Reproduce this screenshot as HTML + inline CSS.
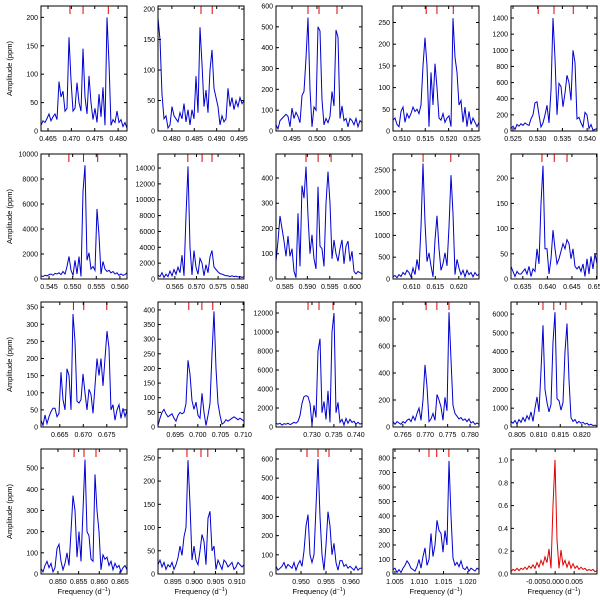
<!DOCTYPE html>
<html><head><meta charset="utf-8"><style>
html,body{margin:0;padding:0;background:#fff;}
svg{display:block;font-family:"Liberation Sans",sans-serif;}
</style></head><body>
<svg id="chart" width="600" height="600" viewBox="0 0 600 600" xmlns="http://www.w3.org/2000/svg"></svg>
<script>
const xMins=[.4635,.4769,.4918,.5081,.5246,.5433,.5611,.5830,.6060,.6326,.6610,.6912,.7218,.7628,.8036,.8459,.8915,.945,1.0046,-.0116];
const xMaxs=[.4819,.4961,.5090,.5265,.5420,.5615,.5810,.6022,.6243,.6501,.6793,.7102,.7414,.7820,.8235,.8667,.9117,.9622,1.0223,.0110];
const yMaxs=[220,205,600,288,1549,10000,15770,495,2867,248,365,427,13160,926,6640,590,269,652,862,1.096];
const yStep=[50,50,100,50,200,2000,2000,100,500,50,50,50,2000,200,1000,100,50,100,100,0.2];
const xTickLists=[[.465,.470,.475,.480],[.480,.485,.490,.495],[.495,.500,.505],[.510,.515,.520,.525],[.525,.530,.535,.540],
[.545,.550,.555,.560],[.565,.570,.575,.580],[.585,.590,.595,.600],[.610,.615,.620],[.635,.640,.645,.650],
[.665,.670,.675],[.695,.700,.705,.710],[.730,.735,.740],[.765,.770,.775,.780],[.805,.810,.815,.820],
[.850,.855,.860,.865],[.895,.900,.905,.910],[.950,.955,.960],[1.005,1.010,1.015,1.020],[-.005,0,.005]];
const markers=[[.4697,.4725,.4779],[.4865,.4890],[.4982,.5004,.5040],[.5152,.5175,.5210],[.5301,.5333,.5372],
[.5492,.5523,.5553],[.5680,.5713,.5736],[.5897,.5924,.5953],[.6124,.6183],[.6389,.6414,.6440],
[.6679,.6701,.6750],[.6980,.7009,.7033],[.7291,.7316,.7348],[.7702,.7726,.7753],[.8110,.8135,.8163],
[.8539,.8563,.8592],[.8983,.9016,.9032],[.9512,.9534,.9556],[1.0120,1.0136,1.0161],[]];
const amp1=[10,18,15,22,30,18,25,30,20,87,60,70,35,40,165,90,35,40,85,50,35,145,60,30,97,50,20,40,15,65,25,77,10,200,120,10,20,15,35,15,20,8,15,5];
const amp2=[185,150,60,20,25,5,10,40,25,20,15,30,20,45,15,35,10,35,20,90,30,170,110,40,67,30,100,133,70,55,40,10,25,15,20,70,40,55,35,50,40,55,45,50];
const amp3=[30,10,50,60,70,80,70,20,110,60,90,70,40,170,190,350,545,200,20,115,100,500,480,150,30,60,40,70,190,120,485,450,60,120,50,60,20,60,50,30,60,20,50,40];
const amp4=[25,30,15,10,45,55,20,40,30,40,55,45,50,40,60,150,215,150,10,135,60,155,100,30,25,40,20,30,35,10,260,170,135,60,70,20,55,10,45,15,30,20,10,20];
const amp5=[30,60,20,80,60,90,70,100,80,70,150,200,350,360,200,50,100,200,320,100,500,1400,900,200,590,550,300,470,690,600,380,1000,850,150,170,100,50,230,200,30,80,10,20,30];
const amp6=[250,200,300,250,350,400,300,450,400,500,350,600,400,1000,1800,700,300,1500,400,1800,200,7000,9100,1500,2100,800,1000,700,5600,3500,400,1400,800,600,700,500,600,400,500,300,400,300,350,500];
const amp7=[500,300,800,200,600,300,1000,400,1200,600,1500,800,3000,400,8000,14200,4000,500,3600,1500,600,2600,2000,400,1800,800,2800,3600,1500,1200,900,700,600,500,400,400,300,400,300,350,250,300,200,300];
const amp8=[70,150,250,200,150,90,170,90,120,30,5,260,50,370,320,445,250,100,175,80,40,365,130,120,50,300,425,300,80,155,100,70,120,155,60,130,150,70,110,30,20,30,25,20];
const amp9=[50,80,30,100,60,150,100,200,150,50,250,100,450,200,1200,2650,1300,400,600,300,50,900,1450,700,200,350,600,300,1200,2380,1500,100,450,250,100,200,50,200,100,150,50,150,80,100];
const amp10=[25,15,5,15,10,10,15,20,10,25,5,20,15,60,30,150,225,60,60,10,40,97,60,30,40,55,70,60,78,70,40,60,25,20,25,15,30,5,40,10,45,20,50,30];
const amp11=[20,5,35,10,30,45,55,55,30,40,160,80,50,170,150,50,330,250,75,70,80,155,100,50,110,95,40,120,200,150,200,120,200,280,230,50,65,20,50,65,25,55,30,50];
const amp12=[5,30,50,60,45,35,40,45,30,20,40,50,45,50,80,228,180,90,60,85,40,30,115,50,5,40,80,250,395,200,80,40,10,15,25,20,25,30,35,30,25,30,25,20];
const amp13=[400,300,400,200,350,300,400,250,350,500,400,600,1200,2500,3200,3300,3200,2500,200,2300,1000,8000,9300,1500,2700,800,3800,500,10000,12000,1500,2600,500,800,200,900,400,800,500,600,300,500,300,400];
const amp14=[40,20,40,30,20,40,30,50,60,40,80,50,100,140,50,200,460,300,40,60,100,50,240,200,150,50,220,120,850,500,160,100,80,60,70,50,60,40,60,30,40,20,30,20];
const amp15=[300,200,350,150,400,250,500,300,600,400,800,300,1000,1600,800,3000,5400,2000,1300,800,1200,4500,6100,1500,1400,900,1300,4000,5500,2500,500,300,400,200,300,200,250,150,200,100,150,80,100,50];
const amp16=[25,10,40,60,30,50,10,30,120,140,60,20,50,100,40,200,370,300,80,200,60,300,540,200,180,70,60,470,300,200,20,90,70,80,40,60,20,50,30,40,10,30,40,20];
const amp17=[20,30,15,25,10,20,15,25,10,20,35,60,40,80,100,245,150,30,60,30,20,50,85,70,20,120,135,50,60,10,30,20,10,30,25,15,20,25,10,15,25,20,15,20];
const amp18=[40,20,30,40,60,30,50,40,30,60,20,50,70,40,120,250,310,100,60,100,350,600,300,100,20,150,325,250,100,160,60,20,70,70,40,50,30,40,30,20,40,20,30,30];
const amp19=[30,40,10,30,10,40,60,90,70,40,30,20,50,100,40,120,180,60,100,280,120,200,370,300,280,150,300,200,780,400,110,60,80,50,90,40,30,50,20,40,30,20,40,30];
const amp20=[.02,.04,.03,.05,.03,.05,.04,.06,.04,.07,.05,.08,.05,.1,.06,.12,.08,.15,.1,.22,.05,.6,1.0,.3,.05,.21,.08,.12,.06,.11,.05,.09,.05,.07,.04,.06,.04,.05,.03,.04,.03,.04,.02,.03];
const amps=[amp1,amp2,amp3,amp4,amp5,amp6,amp7,amp8,amp9,amp10,amp11,amp12,amp13,amp14,amp15,amp16,amp17,amp18,amp19,amp20];

const NS='http://www.w3.org/2000/svg';
const svg=document.getElementById('chart');
const colL=[41,158,276,393,511], rowT=[6,154,302,449], W=86, H=125;
function mk(tag,attrs,parent){const e=document.createElementNS(NS,tag);for(const k in attrs)e.setAttribute(k,attrs[k]);(parent||svg).appendChild(e);return e;}
function fmtY(v,step){return step<1?v.toFixed(1):String(Math.round(v));}
for(let p=0;p<20;p++){
  const r=Math.floor(p/5), c=p%5, L=colL[c], T=rowT[r], B=T+H, R=L+W;
  const g=mk('g',{});
  
  
  const xs=v=>L+(v-xMins[p])/(xMaxs[p]-xMins[p])*W;
  const ys=v=>B-v/yMaxs[p]*H;
  const clip=mk('clipPath',{id:'cp'+p},g);mk('rect',{x:L,y:T,width:W,height:H},clip);
  // curve
  const a=amps[p], n=a.length;
  const pts=a.map((v,i)=>{const f=xMins[p]+i/(n-1)*(xMaxs[p]-xMins[p]);return xs(f).toFixed(1)+','+ys(v).toFixed(1);}).join(' ');
  const line=mk('polyline',{points:pts,fill:'none',stroke:p===19?'#e00000':'#0000d0','stroke-width':1,'clip-path':'url(#cp'+p+')'},g);
  
  
  // markers
  markers[p].forEach(m=>{const ml=mk('line',{x1:xs(m),x2:xs(m),y1:T,y2:T+8,stroke:'#e00000','stroke-width':1},g);
    
    });
  // frame
  const fr=mk('rect',{x:L,y:T,width:W,height:H,fill:'none',stroke:'#000','stroke-width':1},g);
  
  
  // x ticks
  xTickLists[p].forEach(t=>{const x=xs(t);
    mk('line',{x1:x,x2:x,y1:B,y2:B-3,stroke:'#000'},g);mk('line',{x1:x,x2:x,y1:T,y2:T+3,stroke:'#000'},g);
    const tx=mk('text',{x:x,y:B+10,'font-size':7,'text-anchor':'middle',fill:'#000'},g);tx.textContent=t.toFixed(3);
    
    });
  // y ticks
  const st=yStep[p];
  for(let k=0;k*st<=yMaxs[p]+1e-9;k++){const v=k*st,y=ys(v);
    mk('line',{x1:L,x2:L+3,y1:y,y2:y,stroke:'#000'},g);mk('line',{x1:R,x2:R-3,y1:y,y2:y,stroke:'#000'},g);
    const ty=mk('text',{x:L-3,y:y+2.5,'font-size':7,'text-anchor':'end',fill:'#000'},g);ty.textContent=fmtY(v,st);
    
    }
}
for(let r=0;r<4;r++){const cy=rowT[r]+H/2;
  const t=mk('text',{x:0,y:0,'font-size':7.5,'text-anchor':'middle',transform:'translate(12,'+cy+') rotate(-90)'});
  t.textContent='Amplitude (ppm)';
  
  }
for(let c=0;c<5;c++){
  const t=mk('text',{x:colL[c]+W/2,y:594,'font-size':7.5,'text-anchor':'middle'});
  t.innerHTML='Frequency (d<tspan dy="-3" font-size="5.5">\u22121</tspan><tspan dy="3">)</tspan>';
  
  }
</script>
</body></html>
